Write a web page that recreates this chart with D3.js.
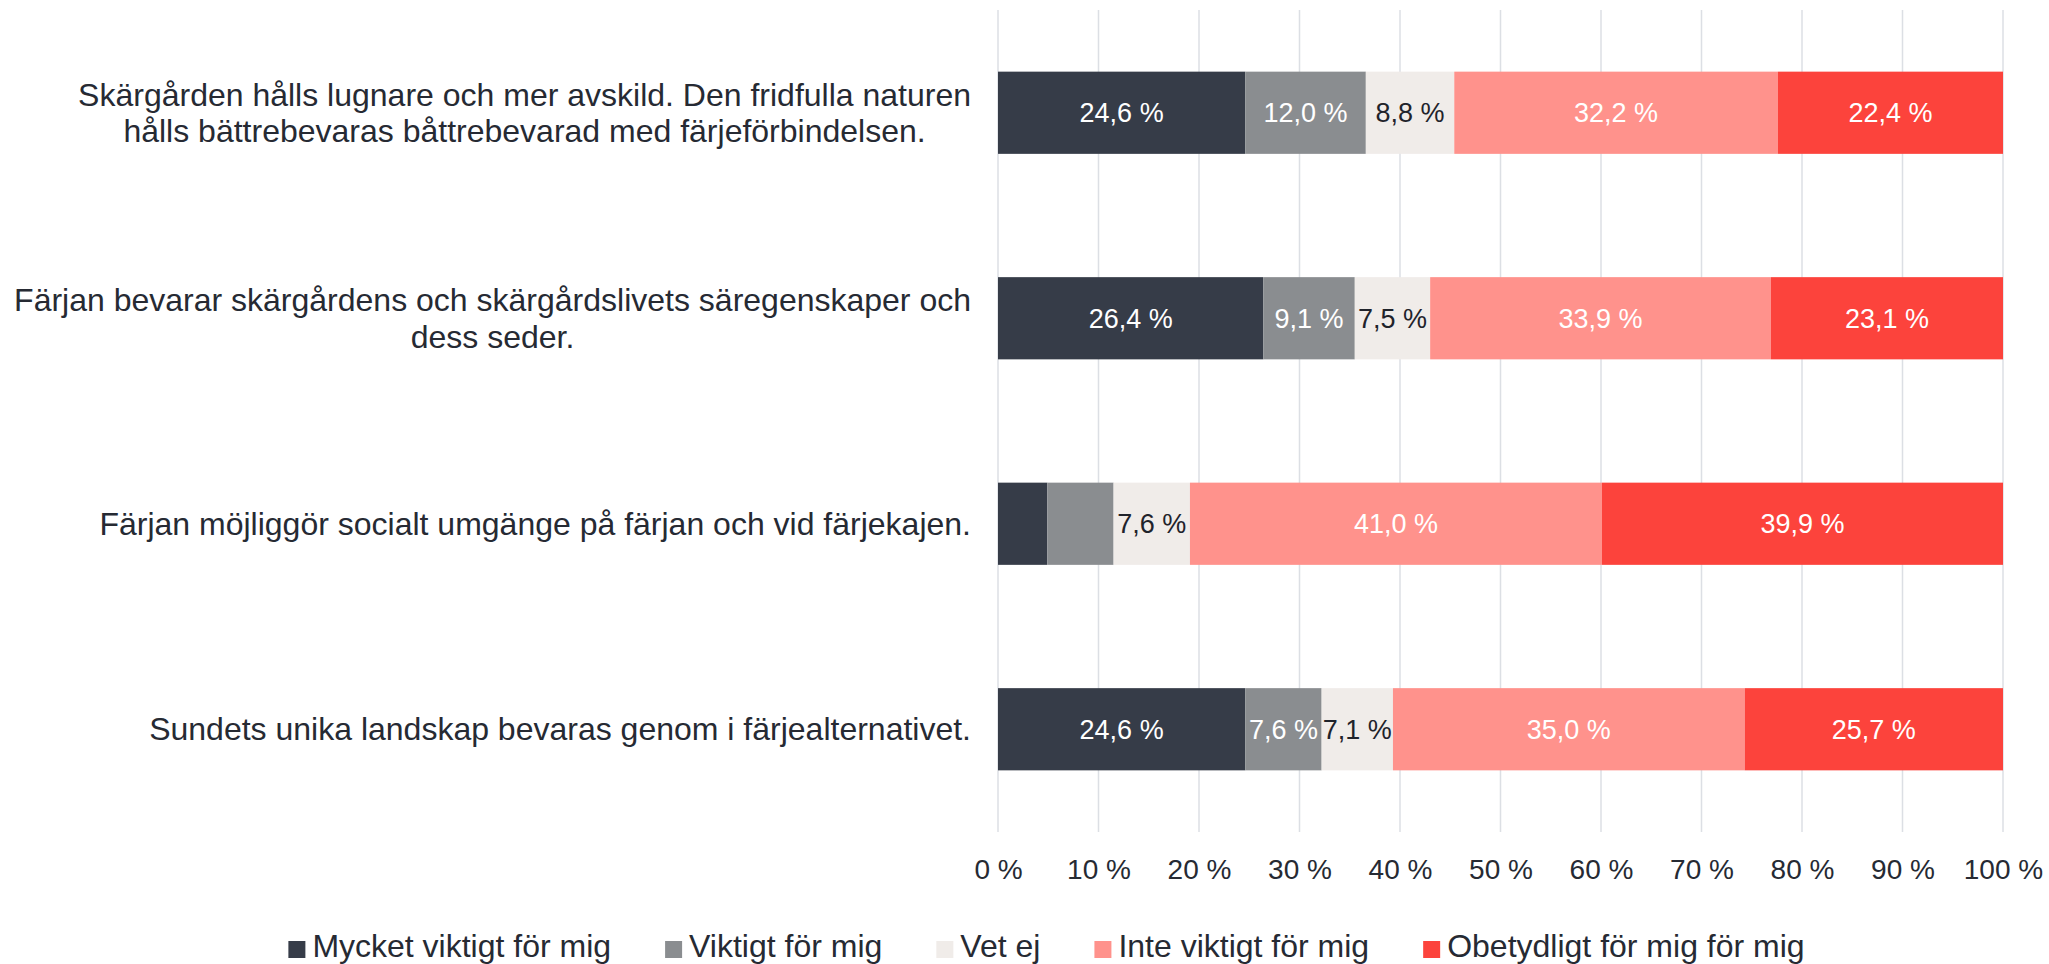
<!DOCTYPE html>
<html>
<head>
<meta charset="utf-8">
<script src="https://cdn.jsdelivr.net/npm/d3@7"></script>
<style>
  html, body { margin: 0; padding: 0; background: #ffffff; }
  svg { display: block; font-family: "Liberation Sans", Arial, sans-serif; }
</style>
</head>
<body>
<svg id="chart" width="2049" height="964"></svg>
<script>
// ---- data ----
const categories = [
  ["Skärgården hålls lugnare och mer avskild. Den fridfulla naturen", "hålls bättrebevaras båttrebevarad med färjeförbindelsen."],
  ["Färjan bevarar skärgårdens och skärgårdslivets säregenskaper och", "dess seder."],
  ["Färjan möjliggör socialt umgänge på färjan och vid färjekajen."],
  ["Sundets unika landskap bevaras genom i färjealternativet."]
];
const seriesNames = ["Mycket viktigt för mig", "Viktigt för mig", "Vet ej", "Inte viktigt för mig", "Obetydligt för mig för mig"];
const mycketViktigt = [24.6, 26.4, 4.9, 24.6];
const viktigt       = [12.0, 9.1, 6.6, 7.6];
const vetEj         = [8.8, 7.5, 7.6, 7.1];
const inteViktigt   = [32.2, 33.9, 41.0, 35.0];
const obetydligt    = [22.4, 23.1, 39.9, 25.7];
const showLabel = [
  [true, true, false, true],
  [true, true, false, true],
  [true, true, true, true],
  [true, true, true, true],
  [true, true, true, true]
];
const tickValues = [0, 10, 20, 30, 40, 50, 60, 70, 80, 90, 100];
const tickLabels = ["0 %", "10 %", "20 %", "30 %", "40 %", "50 %", "60 %", "70 %", "80 %", "90 %", "100 %"];

// ---- styling ----
const colors = ["#363c48", "#8a8d90", "#f0ece9", "#ff928c", "#fc433c"];
const labelColors = ["#ffffff", "#ffffff", "#1f232b", "#ffffff", "#ffffff"];
const textColor = "#262a33";

const svg = d3.select("#chart");
const plot = { left: 998, right: 2003, top: 10, bottom: 832 };

const x = d3.scaleLinear().domain([0, 100]).range([plot.left, plot.right]);
const y = d3.scaleBand().domain(d3.range(categories.length)).range([plot.top, plot.bottom])
  .paddingInner(0.6).paddingOuter(0.3);

// gridlines
svg.append("g").selectAll("line").data(tickValues).join("line")
  .attr("x1", d => x(d)).attr("x2", d => x(d))
  .attr("y1", plot.top).attr("y2", plot.bottom)
  .attr("stroke", "#dcdfe4").attr("stroke-width", 1.5);

// tick labels via axis
const axis = d3.axisBottom(x).tickValues(tickValues).tickFormat((d, i) => tickLabels[i]).tickSize(0).tickPadding(0);
const ag = svg.append("g").call(axis);
ag.select(".domain").remove();
ag.selectAll("text").attr("y", 879).attr("dy", null)
  .attr("font-size", 28).attr("fill", textColor)
  .attr("font-family", "'Liberation Sans', Arial, sans-serif");

// stacking
const rows = categories.map((c, i) => ({
  idx: i,
  vals: [mycketViktigt[i], viktigt[i], vetEj[i], inteViktigt[i], obetydligt[i]]
}));
const keys = d3.range(seriesNames.length);
const stack = d3.stack().keys(keys).value((d, k) => d.vals[k]);
const stacked = stack(rows);

const segG = svg.append("g");
stacked.forEach((layer, k) => {
  const g = segG.append("g");
  g.selectAll("rect").data(layer).join("rect")
    .attr("x", d => x(d[0]))
    .attr("width", d => x(d[1]) - x(d[0]))
    .attr("y", d => y(d.data.idx))
    .attr("height", y.bandwidth())
    .attr("fill", colors[k]);
});
stacked.forEach((layer, k) => {
  const g = segG.append("g");
  g.selectAll("text").data(layer.filter(d => showLabel[k][d.data.idx])).join("text")
    .attr("x", d => (x(d[0]) + x(d[1])) / 2)
    .attr("y", d => y(d.data.idx) + y.bandwidth() / 2)
    .attr("dy", "0.35em")
    .attr("text-anchor", "middle")
    .attr("font-size", 27)
    .attr("fill", labelColors[k])
    .text(d => d.data.vals[k].toFixed(1).replace(".", ",") + " %");
});

// category labels
const labelRight = 971;
const lineH = 36.6;
const catG = svg.append("g");
categories.forEach((lines, i) => {
  const t = catG.append("text").attr("font-size", 32).attr("fill", textColor).attr("text-anchor", "middle");
  const cy = y(i) + y.bandwidth() / 2;
  const n = lines.length;
  const spans = lines.map((ln, j) => t.append("tspan")
    .attr("y", cy + (j - (n - 1) / 2) * lineH)
    .attr("dy", "0.35em")
    .text(ln));
  const maxW = d3.max(spans, s => s.node().getComputedTextLength());
  spans.forEach(s => s.attr("x", labelRight - maxW / 2));
});

// legend
const legG = svg.append("g");
const mk = 17, mkGap = 7, itemGap = 54, legBaseline = 957;
const items = seriesNames.map((name, k) => {
  const g = legG.append("g");
  g.append("rect").attr("width", mk).attr("height", mk).attr("y", 941).attr("fill", colors[k]);
  const t = g.append("text").attr("x", mk + mkGap).attr("y", legBaseline)
    .attr("font-size", 32).attr("fill", textColor).text(name);
  return { g, w: mk + mkGap + t.node().getComputedTextLength() };
});
const total = d3.sum(items, d => d.w) + itemGap * (items.length - 1);
let cx = 1046.5 - total / 2;
items.forEach(it => { it.g.attr("transform", `translate(${cx},0)`); cx += it.w + itemGap; });
</script>
</body>
</html>
